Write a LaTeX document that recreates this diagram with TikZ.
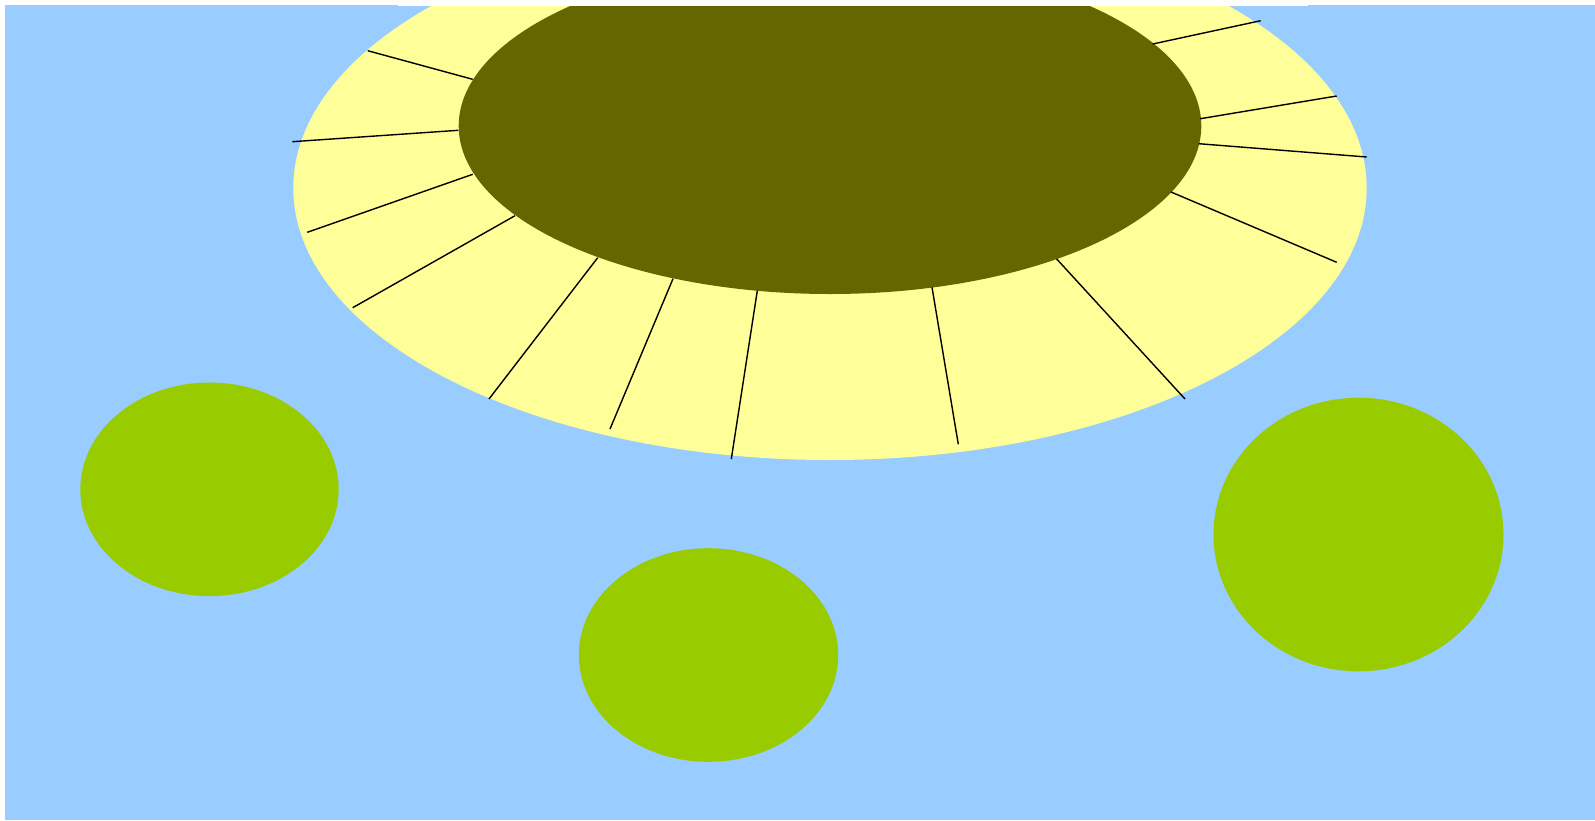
\documentclass[tikz,border=0pt]{standalone}
\usepackage{tikz}
\definecolor{SkyBlue}{RGB}{153,204,255}
\definecolor{PaleYellow}{RGB}{255,255,153}
\definecolor{DarkOlive}{RGB}{102,102,0}
\definecolor{LeafGreen}{RGB}{153,204,0}

\begin{document}
\begin{tikzpicture}[x=1pt, y=-1pt, spoke/.style={black, line width=1.4pt}]
		\useasboundingbox (0,0) rectangle (1595,820);
		
		% 背景
		\fill[SkyBlue] (5,5) rectangle (1595,820);
		\fill[white] (398,4.5) rectangle (1308,6);
		
		% 上方的大椭圆，顶部被裁掉
		\begin{scope}
			\clip (0,6) rectangle (1595,820);
			\fill[PaleYellow] (830,188) ellipse [x radius=536.7, y radius=272];
			\fill[DarkOlive] (830,126) ellipse [x radius=371.3, y radius=168];
		\end{scope}
		
		% 内外椭圆之间的线段
		\foreach \xa/\ya/\xb/\yb in {367.7/50.7/472.7/79.3, 292.3/141.7/458.3/130.3,
			307.3/232.3/472.7/174.3, 352.7/307.7/515/215.7, 489/399/597.7/257.7,
			610/429/673/278.7, 731.3/459/757.3/290.7, 958.3/444.3/932/287.3,
			1185/399/1056.7/259, 1336.7/262.3/1171/192, 1366.7/157/1198.7/143.7,
			1336.7/96/1200.3/118.7, 1260.7/20.7/1152.7/44}
			\draw[spoke] (\xa,\ya) -- (\xb,\yb);
		
		% 三个绿色椭圆
		\fill[LeafGreen] (209.5,489.3) ellipse [x radius=129.2, y radius=106.8];
		\fill[LeafGreen] (708.5,655) ellipse [x radius=129.7, y radius=106.8];
		\fill[LeafGreen] (1358.5,534.5) ellipse [x radius=145, y radius=136.8];
	\end{tikzpicture}
\end{document}
